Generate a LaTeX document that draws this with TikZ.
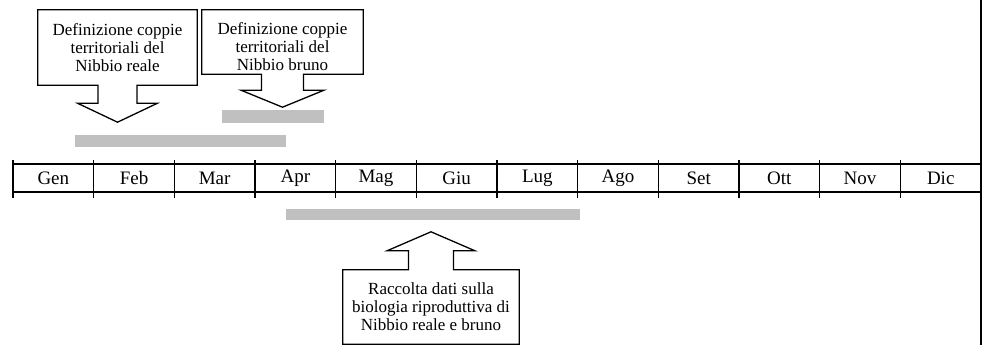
\documentclass[tikz,border=0pt]{standalone}
\usepackage{fontspec}
\setmainfont{Liberation Serif}
\definecolor{barfill}{RGB}{192,192,192}

\begin{document}
\begin{tikzpicture}[x=1pt,y=-1pt,
   callbox/.style={align=center,inner sep=0pt,font=\fontsize{17}{18}\selectfont},
   month/.style={font=\fontsize{19}{20}\selectfont,inner sep=0pt},
   outline/.style={line width=1.3pt,line join=miter},
   bar/.style={fill=barfill}]
\useasboundingbox (0,0) rectangle (987,345);

% callouts
\node[callbox,minimum width=159pt,minimum height=75pt] (b1) at (117.5,47.5)
   {Definizione coppie\\territoriali del\\Nibbio reale};
\node[callbox,minimum width=161pt,minimum height=64pt] (b2) at (282.5,42) {};
\node[callbox] (t2) at (282.5,47)
   {Definizione coppie\\territoriali del\\Nibbio bruno};
\node[callbox,minimum width=176pt,minimum height=74pt] (b3) at (431,307)
   {Raccolta dati sulla\\biologia riproduttiva di\\Nibbio reale e bruno};

\draw[outline] (b1.north west) -- (b1.north east) -- (b1.south east)
   -- ([xshift=19.5pt]b1.south) -- ++(0,18) -- ++(20.5,0) -- ++(-40,19)
   -- ++(-40,-19) -- ++(20.5,0) -- ([xshift=-19.5pt]b1.south)
   -- (b1.south west) -- cycle;
\draw[outline] (b2.north west) -- (b2.north east) -- (b2.south east)
   -- ([xshift=21pt]b2.south) -- ++(0,16) -- ++(20.5,0) -- ++(-41.5,17)
   -- ++(-41.5,-17) -- ++(20.5,0) -- ([xshift=-21pt]b2.south)
   -- (b2.south west) -- cycle;
\draw[outline] (b3.south west) -- (b3.south east) -- (b3.north east)
   -- ([xshift=22.5pt]b3.north) -- ++(0,-19) -- ++(21.5,0) -- ++(-44,-19)
   -- ++(-44,19) -- ++(21.5,0) -- ([xshift=-22.5pt]b3.north)
   -- (b3.north west) -- cycle;

% bars
\fill[bar] (75,135) rectangle (286,147);
\fill[bar] (222,110) rectangle (324,123);
\fill[bar] (286,209) rectangle (580,220);

% months
\draw[outline] (13,164) -- (981,164);
\draw[outline] (13,192) -- (981,192);
\foreach \m [count=\i] in {Gen,Feb,Mar,Apr,Mag,Giu,Lug,Ago,Set,Ott,Nov,Dic}
   \node[month] (m\i) at ({13+80.67*(\i-0.5)},178) {\m};
\foreach \i in {0,...,11}
   \draw[outline] ({13+80.67*\i},160) -- ({13+80.67*\i},198);
\draw[line width=2.5pt] (981,0) -- (981,345);
\end{tikzpicture}
\end{document}
